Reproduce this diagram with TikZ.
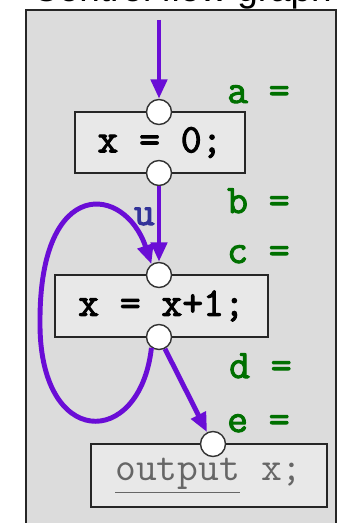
\documentclass[tikz,border=0pt]{standalone}
\usepackage{fontspec}
\setmainfont{Liberation Sans}
\newfontfamily\codefont{Latin Modern Mono}[FakeBold=2.5]
\usepackage{tikz}
\usetikzlibrary{arrows.meta, positioning, calc}

\definecolor{flowpurple}{RGB}{106,13,214}
\definecolor{labgreen}{RGB}{0,112,0}
\definecolor{edgeblue}{RGB}{51,51,153}
\definecolor{panelgray}{RGB}{220,220,220}
\definecolor{stmtgray}{RGB}{232,232,232}

\begin{document}
\begin{tikzpicture}[
    x=0.02cm, y=-0.02cm,
    stmt/.style={
        rectangle, draw=black!85, line width=1.3pt, fill=stmtgray,
        font=\fontsize{23}{27}\selectfont\codefont, inner sep=0pt
    },
    port/.style={
        circle, draw=black!80, line width=0.8pt, fill=white,
        minimum size=0.5cm, inner sep=0pt
    },
    flow/.style={
        draw=flowpurple, line width=2.8pt,
        -{Triangle[length=11pt, width=9pt]}
    },
    fact/.style={
        anchor=base west, text=labgreen,
        font=\fontsize{23}{27}\selectfont\codefont
    },
]
\useasboundingbox (0,0) rectangle (344,523);

% panel with its (cut off) title
\node[anchor=base, font=\fontsize{21}{25}\selectfont] (title) at (182,2) {Control flow graph};
\draw[black!85, line width=1.1pt, fill=panelgray] (26,10) rectangle (336,545);

% statements
\node[stmt, minimum width=3.4cm, minimum height=1.22cm] (init) at (160,142.5) {x = 0;};
\node[stmt, minimum width=4.26cm, minimum height=1.24cm] (incr) at (161.5,306) {x = x+1;};
\node[stmt, minimum width=4.72cm, minimum height=1.26cm, text=black!60,
    font=\fontsize{23}{27}\selectfont\ttfamily] (outp) at (209,475.5)
    {\underline{output} x;};

% entry and exit points
\node[port] (initin) at (159,112) {};
\node[port] (initout) at (159,173) {};
\node[port] (incrin) at (159,275) {};
\node[port] (incrout) at (159,337) {};
\node[port] (outpin) at (213,444) {};
\coordinate (entry) at (159,20);

% edges
\draw[flow] (entry) -- (initin);
\draw[flow] (incrout.235) .. controls (140,450) and (38,450) .. (40,320)
    .. controls (40,175) and (125,185) .. (incrin.125);
\draw[flow] (initout) -- node[left=1pt, pos=0.4, inner sep=0pt, text=edgeblue,
    font=\fontsize{23}{27}\selectfont\codefont] (ulab) {u} (incrin);
\draw[flow] (incrout) -- (outpin);

% facts
\node[fact] (fa) at (221,103) {a =};
\node[fact] (fb) at (221,213) {b =};
\node[fact] (fc) at (221,263) {c =};
\node[fact] (fd) at (223,378) {d =};
\node[fact] (fe) at (221,432) {e =};

\end{tikzpicture}
\end{document}
